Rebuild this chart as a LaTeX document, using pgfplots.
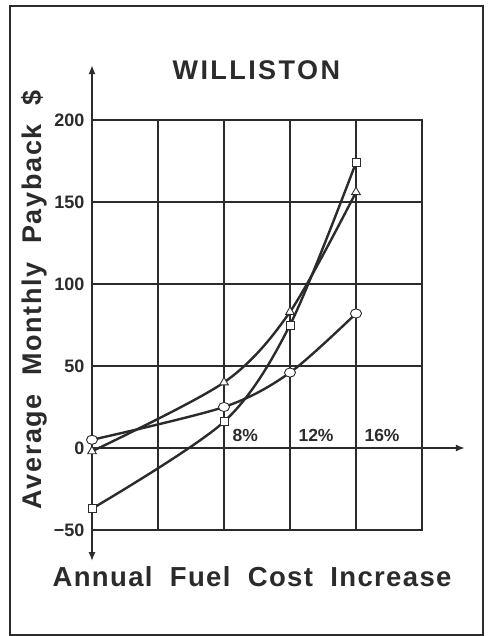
\documentclass[border=0pt]{standalone}
\usepackage{pgfplots}
\pgfplotsset{compat=1.18}
\usetikzlibrary{arrows.meta}
\usepackage{fontspec}
\setmainfont{Liberation Sans}
\definecolor{ink}{HTML}{2B2B2B}
\begin{document}
\begin{tikzpicture}
\useasboundingbox (0pt,0pt) rectangle (487pt,636pt);
\draw[ink, line width=1.1pt] (10pt,1pt) rectangle (483pt,630pt);
\begin{axis}[
  at={(92pt,106pt)}, anchor=south west,
  scale only axis, width=330pt, height=410pt,
  xmin=0, xmax=20, ymin=-50, ymax=200,
  xtick={0,4,8,12,16,20}, xticklabels={},
  ytick={-50,0,50,100,150,200},
  yticklabels={−50,0,50,100,150,200},
  major tick length=0pt,
  grid=major,
  major grid style={ink, line width=1.1pt},
  axis line style={ink, line width=1.1pt},
  clip=false,
  /pgf/number format/assume math mode=true,
  every tick label/.append style={font=\bfseries\fontsize{18}{19}\selectfont, text=ink},
  yticklabel style={xshift=-4pt},
  title={WILLISTON},
  title style={at={(rel axis cs:0.498,1.106)}, anchor=center, font=\bfseries\fontsize{27}{28}\selectfont\addfontfeatures{LetterSpace=9}, text=ink},
  xlabel={Annual\hspace{0.3em} Fuel\hspace{0.3em} Cost\hspace{0.3em} Increase},
  xlabel style={at={(rel axis cs:0.485,-0.115)}, anchor=center, font=\bfseries\fontsize{27.5}{29}\selectfont\addfontfeatures{LetterSpace=5}, text=ink},
  ylabel={Average\hspace{0.35em} Monthly\hspace{0.35em} Payback\hspace{0.35em} \$},
  ylabel style={at={(rel axis cs:-0.176,0.561)}, anchor=center, rotate=0, font=\bfseries\fontsize{27}{29}\selectfont\addfontfeatures{LetterSpace=6}, text=ink},
]
% axes arrows
\draw[ink, line width=1.8pt, -{Latex[length=9pt,width=7pt]}] (axis cs:0,0) -- (axis cs:22.6,0);
\draw[ink, line width=1.8pt, {Latex[length=9pt,width=7pt]}-{Latex[length=9pt,width=7pt]}] (axis cs:0,-69) -- (axis cs:0,233.5);
% percent labels
\node[anchor=base west, text=ink, font=\bfseries\fontsize{17.5}{18}\selectfont, xshift=5pt, yshift=6pt] at (axis cs:8,0) {8\%};
\node[anchor=base west, text=ink, font=\bfseries\fontsize{17.5}{18}\selectfont, xshift=5pt, yshift=6pt] at (axis cs:12,0) {12\%};
\node[anchor=base west, text=ink, font=\bfseries\fontsize{17.5}{18}\selectfont, xshift=5pt, yshift=6pt] at (axis cs:16,0) {16\%};
% series
\addplot[ink, line width=2.4pt, smooth, mark=square*, mark size=4pt, mark options={fill=white, line width=0.9pt}]
  coordinates {(0,-37) (8,16) (12,75) (16,174)};
\addplot[ink, line width=2.4pt, smooth, mark=triangle*, mark size=5pt, mark options={fill=white, line width=0.9pt}]
  coordinates {(0,-2) (8,40) (12,83) (16,156)};
\addplot[ink, line width=2.4pt, smooth, mark=*, mark size=4.6pt, mark options={fill=white, line width=0.9pt, xscale=1.2}]
  coordinates {(0,5) (8,25) (12,46) (16,82)};
\end{axis}
\end{tikzpicture}
\end{document}
